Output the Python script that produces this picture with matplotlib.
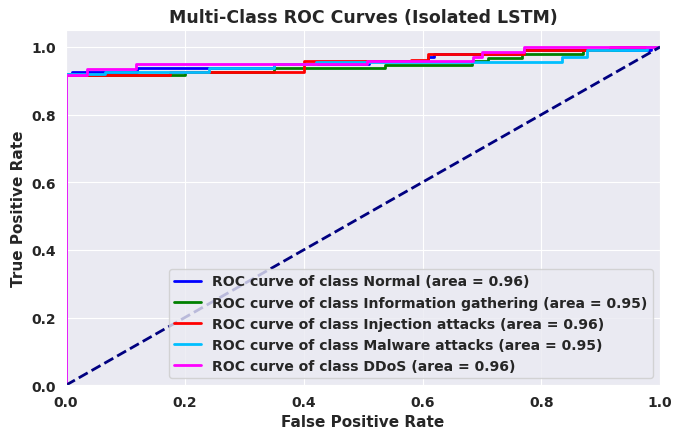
import numpy as np
import matplotlib
matplotlib.use('Agg')
import matplotlib.pyplot as plt
import seaborn as sns

sns.set_style('darkgrid')

classes = ['Normal', 'Information gathering', 'Injection attacks', 'Malware attacks', 'DDoS']
aucs = [0.96, 0.95, 0.96, 0.95, 0.96]
colors = ['blue', 'green', 'red', 'deepskyblue', 'magenta']

# step breakpoints (fpr where tpr jumps, tpr after the jump)
fpr_normal = [0.0, 0.0, 0.01, 0.12, 0.35, 0.51, 0.61, 0.62, 0.77, 0.985, 1.0]
tpr_normal = [0.0, 0.92, 0.927, 0.937, 0.95, 0.957, 0.97, 0.978, 0.99, 1.0, 1.0]

fpr_info = [0.0, 0.0, 0.20, 0.35, 0.537, 0.683, 0.71, 0.767, 0.87, 0.93, 1.0]
tpr_info = [0.0, 0.917, 0.927, 0.937, 0.947, 0.957, 0.967, 0.98, 0.99, 1.0, 1.0]

fpr_inj = [0.0, 0.0, 0.175, 0.40, 0.58, 0.61, 0.77, 0.916, 1.0]
tpr_inj = [0.0, 0.917, 0.927, 0.957, 0.962, 0.978, 0.99, 1.0, 1.0]

fpr_mal = [0.0, 0.0, 0.066, 0.24, 0.35, 0.42, 0.835, 0.877, 0.978, 1.0]
tpr_mal = [0.0, 0.92, 0.927, 0.937, 0.95, 0.955, 0.97, 0.99, 1.0, 1.0]

fpr_ddos = [0.0, 0.0, 0.035, 0.118, 0.507, 0.685, 0.70, 0.77, 1.0]
tpr_ddos = [0.0, 0.917, 0.935, 0.95, 0.957, 0.97, 0.984, 1.0, 1.0]

fprs = [fpr_normal, fpr_info, fpr_inj, fpr_mal, fpr_ddos]
tprs = [tpr_normal, tpr_info, tpr_inj, tpr_mal, tpr_ddos]

fig, ax = plt.subplots(figsize=(6.73, 4.31), dpi=100)
fig.subplots_adjust(left=0.098, right=0.981, top=0.928, bottom=0.104)

for name, auc, c, fpr, tpr in zip(classes, aucs, colors, fprs, tprs):
    ax.plot(fpr, tpr, color=c, lw=2, drawstyle='steps-post',
            label='ROC curve of class {0} (area = {1:0.2f})'.format(name, auc))

ax.plot([0, 1], [0, 1], color='navy', lw=2, linestyle='--')

ax.set_xlim([0.0, 1.0])
ax.set_ylim([0.0, 1.05])
ax.set_xlabel('False Positive Rate', fontsize=11, fontweight='bold')
ax.set_ylabel('True Positive Rate', fontsize=11, fontweight='bold')
ax.set_title('Multi-Class ROC Curves (Isolated LSTM)', fontsize=12.5, fontweight='bold')
for lbl in ax.get_xticklabels() + ax.get_yticklabels():
    lbl.set_fontweight('bold')
ax.tick_params(labelsize=10)
ax.legend(loc='lower right', prop={'weight': 'bold', 'size': 10.1}, handlelength=1.9)

fig.savefig('out.png')
